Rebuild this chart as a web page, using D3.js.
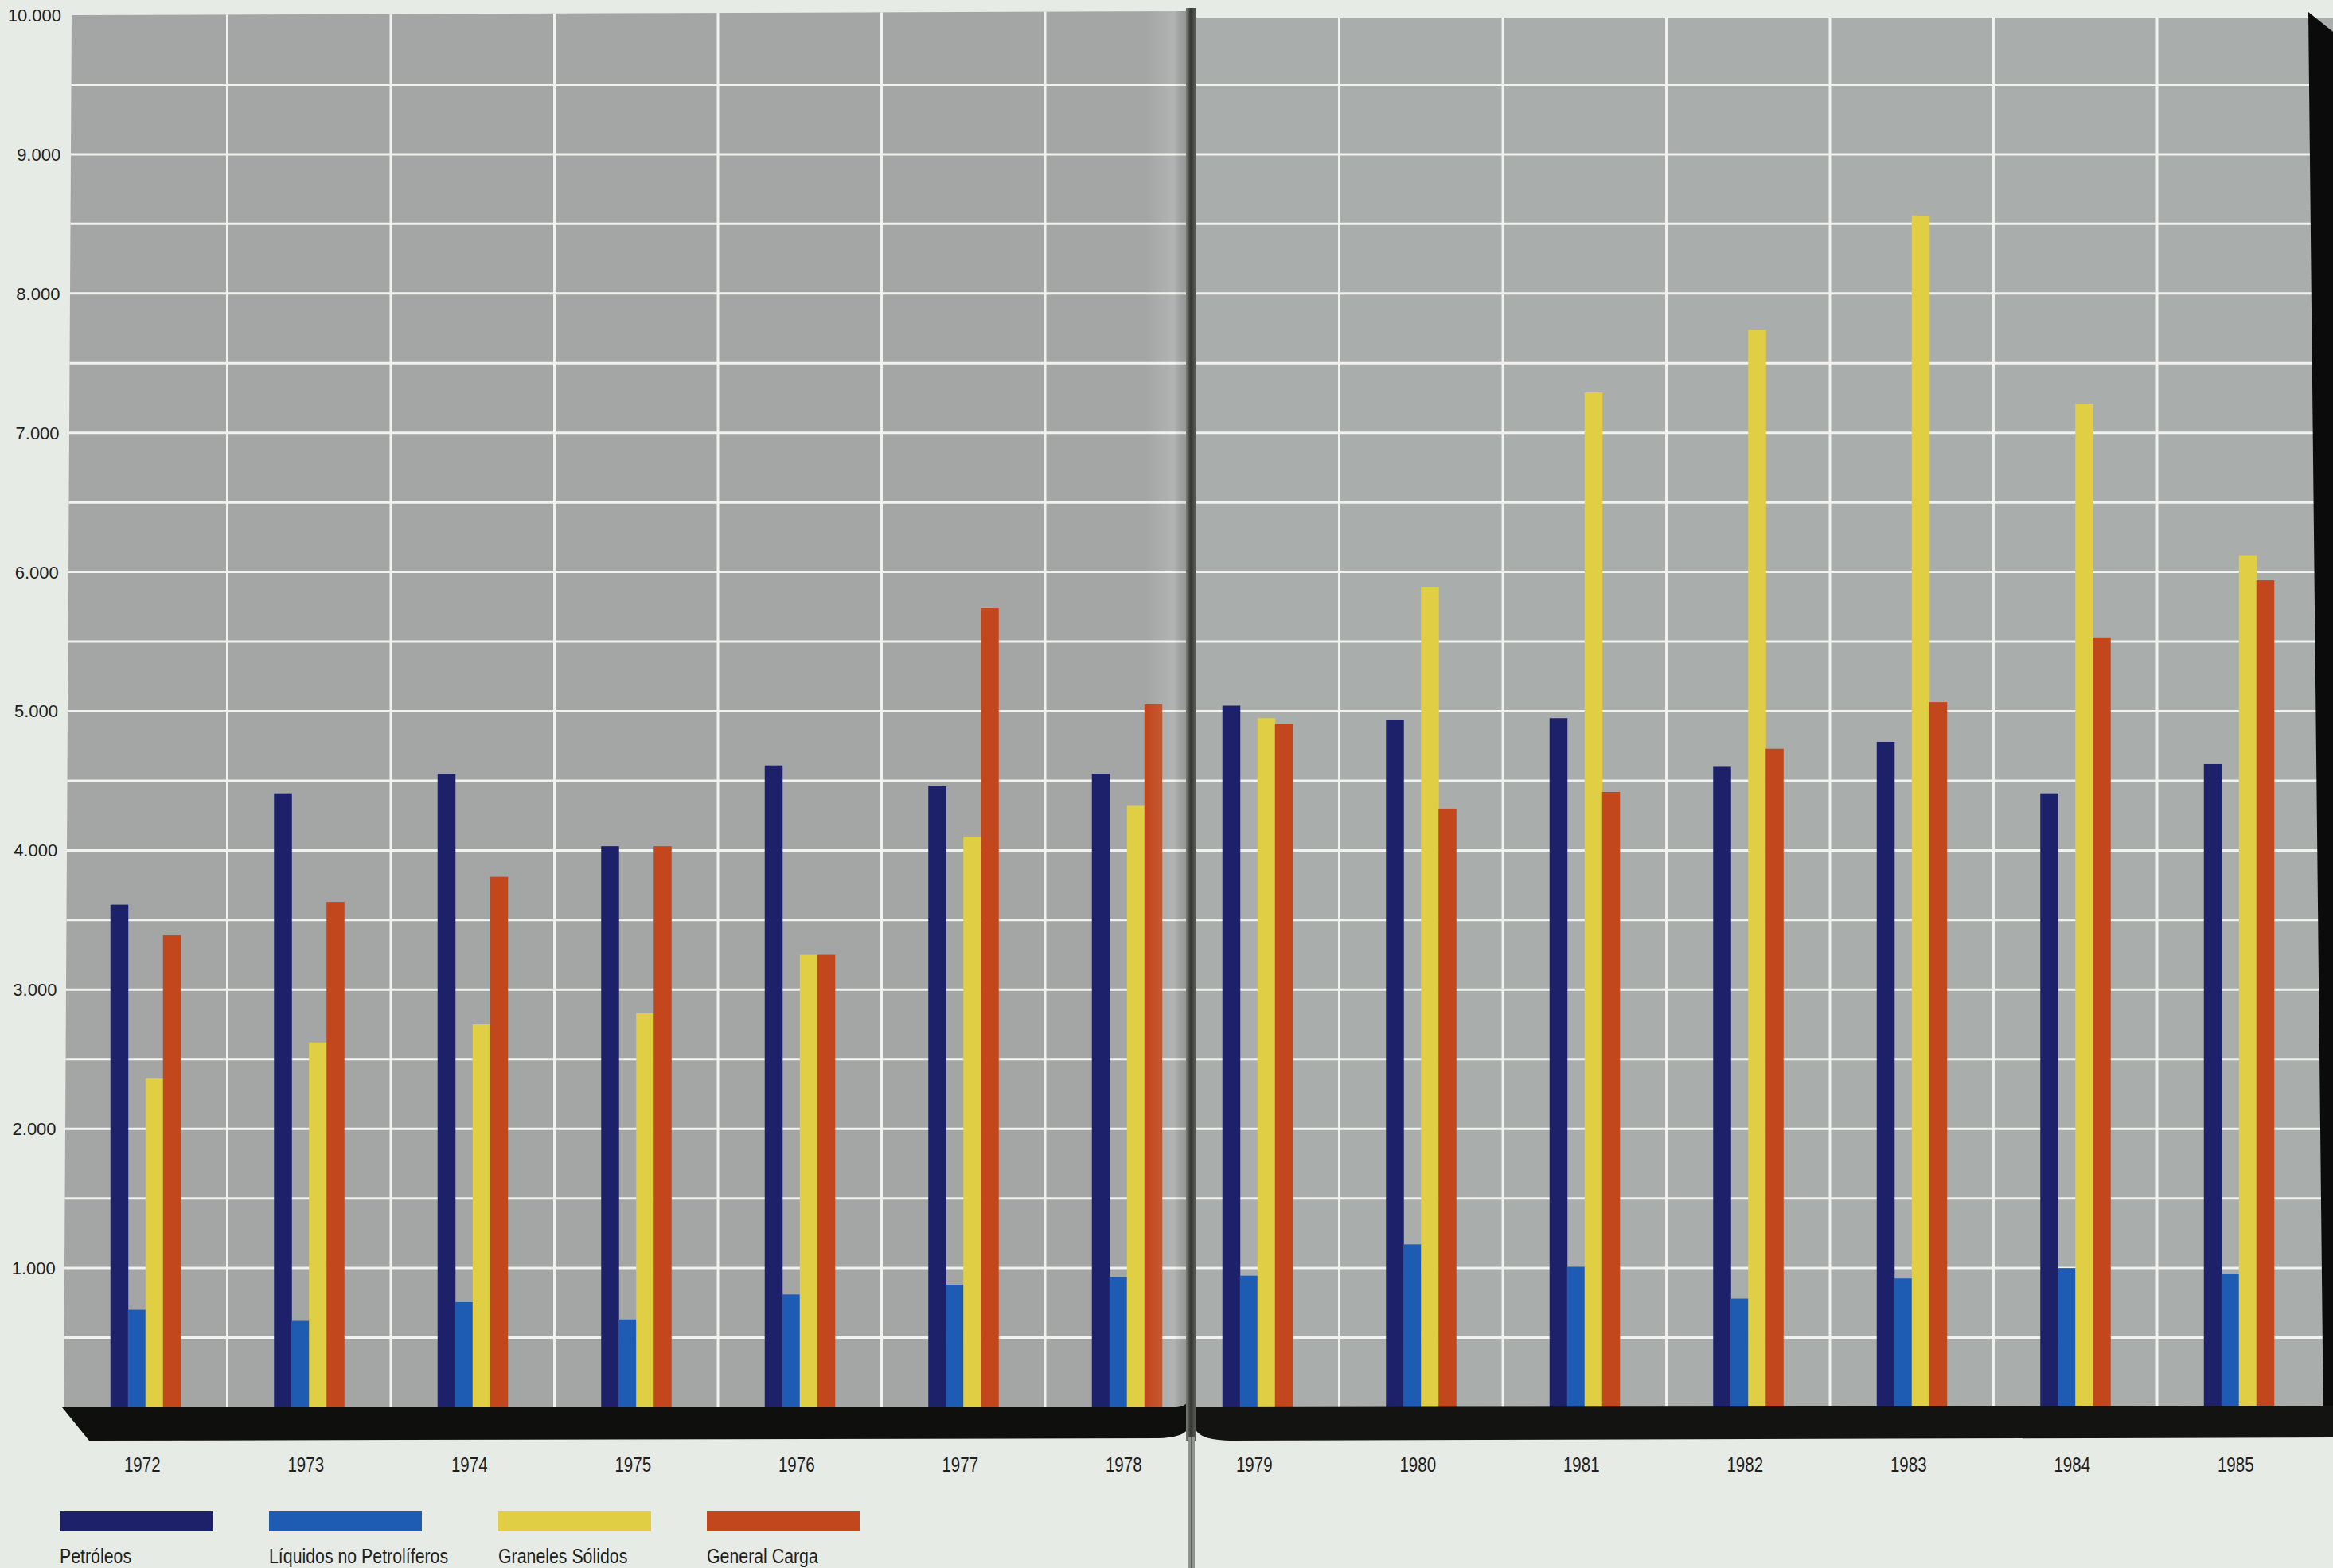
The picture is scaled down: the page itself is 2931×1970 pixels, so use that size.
<!DOCTYPE html>
<html><head><meta charset="utf-8">
<script src="https://cdn.jsdelivr.net/npm/d3@7"></script>
<style>html,body{margin:0;padding:0;background:#e6ebe5;}svg{display:block}</style>
</head><body>
<svg id="c" width="2931" height="1970"></svg>
<script>
// ---- data ----
const years = [1972,1973,1974,1975,1976,1977,1978,1979,1980,1981,1982,1983,1984,1985];
const leftYears = years.slice(0,7);
const rightYears = years.slice(7);
const series = ["Petróleos","Líquidos no Petrolíferos","Graneles Sólidos","General Carga"];
const petroleos = [3610,4410,4550,4030,4610,4460,4550,5040,4940,4950,4600,4780,4410,4620];
const liquidos  = [700,620,755,630,810,880,935,945,1170,1010,780,925,1000,960];
const graneles  = [2360,2620,2750,2830,3250,4100,4320,4950,5890,7290,7740,8560,7210,6120];
const carga     = [3390,3630,3810,4030,3250,5740,5050,4910,4300,4420,4730,5065,5530,5940];
const yTicks  = [1000,2000,3000,4000,5000,6000,7000,8000,9000,10000];
const yLabels = ["1.000","2.000","3.000","4.000","5.000","6.000","7.000","8.000","9.000","10.000"];
const colors = ["#1c2169","#1e5cb4","#e0cf45","#c2471d"];

const valuesBySeries = [petroleos, liquidos, graneles, carga];
const rows = years.map((yr,i)=>({year:yr, vals: valuesBySeries.map(s=>s[i])}));

// ---- layout ----
const svg = d3.select("#c");
const y = d3.scaleLinear().domain([0,10000]).range([1768,19]);
const step = 205.5;
const xL = d3.scaleBand().domain(leftYears).range([80, 80+7*step]);
const xR = d3.scaleBand().domain(rightYears).range([1477, 1477+7*step]);
const xS = d3.scaleBand().domain(series).range([0, step]).paddingOuter(2.67);
const xOf = yr => leftYears.includes(yr) ? xL(yr) : xR(yr);

const defs = svg.append("defs");
defs.append("clipPath").attr("id","clipL").append("polygon")
  .attr("points","90,19 1490,14 1490,1768 80,1768");
defs.append("clipPath").attr("id","clipR").append("rect")
  .attr("x",1502).attr("y",22).attr("width",1429).attr("height",1746);
const gFold = defs.append("linearGradient").attr("id","fold").attr("x1","0").attr("x2","1");
gFold.append("stop").attr("offset","0").attr("stop-color","#ffffff").attr("stop-opacity",0);
gFold.append("stop").attr("offset","0.7").attr("stop-color","#ffffff").attr("stop-opacity",0.16);
gFold.append("stop").attr("offset","1").attr("stop-color","#000000").attr("stop-opacity",0.08);
const gSpine = defs.append("linearGradient").attr("id","spine").attr("x1","0").attr("x2","1");
gSpine.append("stop").attr("offset","0").attr("stop-color","#7a7d78");
gSpine.append("stop").attr("offset","0.45").attr("stop-color","#343632");
gSpine.append("stop").attr("offset","1").attr("stop-color","#5e615c");

// pages background
const pL = svg.append("g").attr("clip-path","url(#clipL)");
const pR = svg.append("g").attr("clip-path","url(#clipR)");
pL.append("rect").attr("x",0).attr("y",0).attr("width",1500).attr("height",1768).attr("fill","#a3a6a5");
pR.append("rect").attr("x",1502).attr("y",0).attr("width",1429).attr("height",1768).attr("fill","#a9adac");

// horizontal grid
const hTicks = y.ticks(20).filter(v=>v>0 && v<10000);
[pL,pR].forEach(p=>{
  p.selectAll("line.h").data(hTicks).join("line").attr("class","h")
    .attr("x1",0).attr("x2",2931).attr("y1",d=>y(d)).attr("y2",d=>y(d))
    .attr("stroke","#f1f2ef").attr("stroke-width",3);
});
// vertical grid (column boundaries)
pL.selectAll("line.v").data(leftYears.slice(1)).join("line").attr("class","v")
  .attr("x1",d=>xL(d)).attr("x2",d=>xL(d)).attr("y1",0).attr("y2",1768)
  .attr("stroke","#f1f2ef").attr("stroke-width",3);
pR.selectAll("line.v").data(rightYears.slice(1)).join("line").attr("class","v")
  .attr("x1",d=>xR(d)).attr("x2",d=>xR(d)).attr("y1",0).attr("y2",1768)
  .attr("stroke","#f1f2ef").attr("stroke-width",3);

// bars
function drawBars(p, data){
  const g = p.selectAll("g.yr").data(data).join("g").attr("class","yr")
    .attr("transform",d=>`translate(${xOf(d.year)},0)`);
  g.selectAll("rect").data(d=>d.vals.map((v,i)=>({v,i}))).join("rect")
    .attr("x",d=>xS(series[d.i])).attr("width",xS.bandwidth()+0.5)
    .attr("y",d=>y(d.v)).attr("height",d=>y(0)-y(d.v))
    .attr("fill",d=>colors[d.i]);
}
drawBars(pL, rows.filter(r=>leftYears.includes(r.year)));
drawBars(pR, rows.filter(r=>rightYears.includes(r.year)));

// fold shading
svg.append("rect").attr("x",1440).attr("y",14).attr("width",50).attr("height",1754).attr("fill","url(#fold)");

// right black edge
svg.append("polygon").attr("points","2900,15 2931,40 2931,1790 2919,1790").attr("fill","#0b0b0b");

// base bars
svg.append("path").attr("d","M78,1768 L1478,1768 Q1489,1767 1491,1762 L1491,1797 Q1484,1806 1455,1807 L112,1810 Z").attr("fill","#0f0f0e");
svg.append("path").attr("d","M1502,1768 L2931,1766 L2931,1806 L1545,1810 Q1508,1809 1502,1796 Z").attr("fill","#131312");

// spine
svg.append("rect").attr("x",1490).attr("y",10).attr("width",13).attr("height",1800).attr("fill","url(#spine)");
svg.append("rect").attr("x",1493).attr("y",1805).attr("width",8).attr("height",165).attr("fill","#8f948e");
svg.append("rect").attr("x",1496).attr("y",1805).attr("width",2).attr("height",165).attr("fill","#5d615b");

// y labels
svg.append("g").selectAll("text").data(yTicks).join("text")
  .attr("x",d=>77 - 8*(y(d)-19)/1749).attr("y",d=>y(d)).attr("dy","0.36em")
  .attr("text-anchor","end").attr("font-family","Liberation Sans, Arial, sans-serif")
  .attr("font-size",22).attr("fill","#1f1f1f")
  .text((d,i)=>yLabels[i]);

// year labels
svg.append("g").selectAll("text").data(years).join("text")
  .attr("transform",d=>`translate(${xOf(d)+xL.bandwidth()/2-4},1849) scale(0.82,1)`)
  .attr("text-anchor","middle").attr("font-family","Liberation Sans, Arial, sans-serif")
  .attr("font-size",25).attr("fill","#1f1f1f").text(d=>d);

// legend
const legX = [75,338,626,888];
const leg = svg.append("g").selectAll("g").data(series).join("g");
leg.append("rect").attr("x",(d,i)=>legX[i]).attr("y",1899).attr("width",192).attr("height",25)
  .attr("fill",(d,i)=>colors[i]);
leg.append("text").attr("transform",(d,i)=>`translate(${legX[i]},1964) scale(0.82,1)`)
  .attr("font-family","Liberation Sans, Arial, sans-serif").attr("font-size",26)
  .attr("fill","#1f1f1f").text(d=>d);
</script>
</body></html>
